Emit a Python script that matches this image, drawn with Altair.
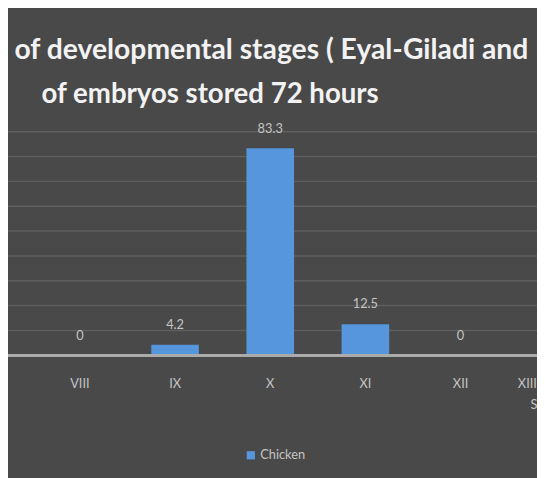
import altair as alt
import pandas as pd

# ---- data ----
stages = ["VIII", "IX", "X", "XI", "XII", "XIII (Primitive|STREAK)"]
percent = [0, 4.2, 83.3, 12.5, 0, 0]
series_name = "Chicken"
title_line1 = "% of developmental stages ( Eyal-Giladi and Kochav )"
title_line2 = "of embryos stored 72 hours"
grid_values = [10, 20, 30, 40, 50, 60, 70, 80, 90]

df = pd.DataFrame({"stage": stages, "percent": percent, "series": [series_name] * len(stages)})
grid_df = pd.DataFrame({"g": grid_values})

BG = "#494949"
BLUE = "#5596dc"
LABEL = "#c4c4c4"
FONT = "Lato"

x_enc = alt.X(
    "stage:N",
    sort=stages,
    scale=alt.Scale(range=[24.7, 604.3], paddingInner=0.5, paddingOuter=0.25),
    axis=alt.Axis(
        title=None, domain=False, ticks=False, grid=False, labelAngle=0, labelPadding=23,
        labelColor=LABEL, labelFont=FONT, labelFontSize=13, labelBaseline="top",
        labelExpr="split(datum.label, '|')", labelLineHeight=21,
    ),
)
y_scale = alt.Scale(domain=[0, 90], nice=False)
y_enc = alt.Y("percent:Q", scale=y_scale, axis=None)

base = alt.Chart(df)

grid = alt.Chart(grid_df).mark_rule(color="#5e5e5e", strokeWidth=1.5).encode(
    y=alt.Y("g:Q", scale=y_scale, axis=None)
)

bars = base.mark_bar().encode(
    x=x_enc,
    y=y_enc,
    color=alt.Color(
        "series:N",
        scale=alt.Scale(range=[BLUE]),
        legend=alt.Legend(
            title=None, orient="none", legendX=240, legendY=322, padding=0,
            symbolType="square", symbolSize=70, symbolStrokeWidth=0,
            labelColor=LABEL, labelFont=FONT, labelFontSize=13, labelOffset=3,
        ),
    ),
)

labels = base.mark_text(
    baseline="middle", dy=-20, font=FONT, fontSize=13, color=LABEL
).encode(x=alt.X("stage:N", sort=stages), y="percent:Q", text=alt.Text("percent:Q"))

baseline = base.mark_rule(color="#ababab", strokeWidth=2.5).encode(y=alt.datum(0))

t1 = alt.Chart(pd.DataFrame({"t": [title_line1]})).mark_text(
    align="left", baseline="middle", font=FONT, fontWeight="bold", fontSize=28.7, color="#f2f2f2"
).encode(x=alt.value(-24), y=alt.value(-83), text="t:N")
t2 = alt.Chart(pd.DataFrame({"t": [title_line2]})).mark_text(
    align="left", baseline="middle", font=FONT, fontWeight="bold", fontSize=28, color="#f2f2f2"
).encode(x=alt.value(34), y=alt.value(-37), text="t:N")

chart = (
    alt.layer(grid, bars, baseline, labels, t1, t2)
    .properties(
        width=537, height=227,
        autosize=alt.AutoSizeParams(type="none"),
        padding={"left": 0, "top": 122, "right": 0, "bottom": 121},
        background=BG,
    )
    .configure_view(stroke=None)
)

chart.save("out.html", embed_options={"renderer": "svg", "actions": False})
